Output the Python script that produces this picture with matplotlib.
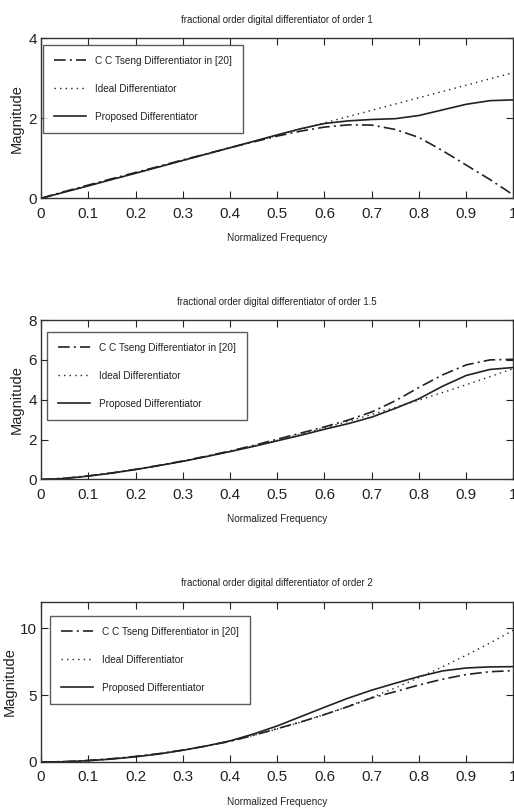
import matplotlib
matplotlib.use('Agg')
import matplotlib.pyplot as plt

plt.rcParams['font.family'] = ['Liberation Sans', 'DejaVu Sans']

freq = [0.0, 0.05, 0.1, 0.15, 0.2, 0.25, 0.3, 0.35, 0.4, 0.45, 0.5,
        0.55, 0.6, 0.65, 0.7, 0.75, 0.8, 0.85, 0.9, 0.95, 1.0]
xticks = [0, 0.1, 0.2, 0.3, 0.4, 0.5, 0.6, 0.7, 0.8, 0.9, 1]
xticklabels = ['0', '0.1', '0.2', '0.3', '0.4', '0.5', '0.6', '0.7', '0.8', '0.9', '1']

labels = ['C C Tseng Differentiator in [20]', 'Ideal Differentiator', 'Proposed Differentiator']
titles = ['fractional order digital differentiator of order 1',
          'fractional order digital differentiator of order 1.5',
          'fractional order digital differentiator of order 2']

# order 1
tseng1 = [0, 0.17, 0.33, 0.49, 0.645, 0.80, 0.96, 1.11, 1.265, 1.41, 1.555,
          1.68, 1.78, 1.835, 1.83, 1.72, 1.52, 1.19, 0.83, 0.47, 0.08]
ideal1 = [0, 0.157, 0.314, 0.471, 0.628, 0.785, 0.942, 1.100, 1.257, 1.414, 1.571,
          1.728, 1.885, 2.042, 2.199, 2.356, 2.513, 2.670, 2.827, 2.985, 3.14]
prop1 = [0, 0.155, 0.31, 0.47, 0.625, 0.785, 0.945, 1.105, 1.265, 1.425, 1.585,
         1.74, 1.87, 1.935, 1.97, 1.99, 2.07, 2.21, 2.35, 2.44, 2.46]

# order 1.5
tseng2 = [0, 0.06, 0.18, 0.33, 0.51, 0.71, 0.93, 1.17, 1.43, 1.71, 2.02,
          2.33, 2.64, 2.98, 3.39, 3.95, 4.62, 5.25, 5.75, 6.00, 6.03]
ideal2 = [0, 0.062, 0.176, 0.323, 0.498, 0.696, 0.915, 1.153, 1.409, 1.681, 1.969,
          2.271, 2.588, 2.918, 3.261, 3.617, 3.984, 4.363, 4.754, 5.156, 5.568]
prop2 = [0, 0.05, 0.17, 0.32, 0.50, 0.70, 0.91, 1.15, 1.40, 1.66, 1.94,
         2.22, 2.52, 2.80, 3.13, 3.57, 4.05, 4.68, 5.22, 5.52, 5.62]

# order 2
tseng3 = [0, 0.03, 0.12, 0.25, 0.42, 0.63, 0.89, 1.20, 1.54, 2.00, 2.50,
          3.00, 3.55, 4.15, 4.80, 5.27, 5.77, 6.20, 6.55, 6.76, 6.84]
ideal3 = [0, 0.025, 0.099, 0.222, 0.395, 0.617, 0.888, 1.209, 1.579, 1.999, 2.467,
          2.986, 3.553, 4.170, 4.836, 5.552, 6.317, 7.131, 7.994, 8.907, 9.870]
prop3 = [0, 0.02, 0.10, 0.22, 0.39, 0.60, 0.88, 1.20, 1.58, 2.10, 2.70,
         3.40, 4.10, 4.78, 5.38, 5.90, 6.40, 6.82, 7.04, 7.12, 7.14]

panels = [
    (tseng1, ideal1, prop1, 4, [0, 2, 4], (0.004, 0.958), -0.036),
    (tseng2, ideal2, prop2, 8, [0, 2, 4, 6, 8], (0.013, 0.925), -0.036),
    (tseng3, ideal3, prop3, 12, [0, 5, 10], (0.019, 0.911), -0.051),
]
boxes = [(0.7549, 0.9527), (0.4073, 0.6044), (0.0581, 0.2562)]

ink = '#222222'
fig = plt.figure(figsize=(5.14, 8.09), dpi=100)

for i, (ts, idl, pr, ymax, yticks, anchor, ylab_x) in enumerate(panels):
    bottom, top = boxes[i]
    ax = fig.add_axes([0.0798, bottom, 0.999 - 0.0798, top - bottom])

    ax.plot(freq, ts, color=ink, lw=1.2, linestyle=(0, (7, 2.5, 1.2, 2.5)), label=labels[0])
    ax.plot(freq, idl, color=ink, lw=1.0, linestyle=(0, (1, 3)), label=labels[1])
    ax.plot(freq, pr, color=ink, lw=1.2, linestyle='-', label=labels[2])

    ax.set_xlim(0, 1)
    ax.set_ylim(0, ymax)
    ax.set_xticks(xticks)
    ax.set_xticklabels(xticklabels)
    ax.set_yticks(yticks)
    ax.tick_params(direction='in', length=5, width=0.8, top=True, right=True,
                   labelsize=11, colors=ink)
    ax.tick_params(axis='x', pad=6)
    ax.tick_params(axis='y', pad=3)
    for sp in ax.spines.values():
        sp.set_color('#333333')
        sp.set_linewidth(1.0)

    ax.set_title(titles[i], fontsize=6.9, color=ink, pad=11)
    ax.set_xlabel('Normalized Frequency', fontsize=7.2, color=ink, labelpad=9)
    ax.set_ylabel('Magnitude', fontsize=10.5, color=ink)
    ax.yaxis.set_label_coords(ylab_x, 0.5)

    leg = ax.legend(loc='upper left', bbox_to_anchor=anchor, fontsize=7.2,
                    fancybox=False, frameon=True, borderpad=1.1, labelspacing=1.8,
                    handlelength=3.2, handletextpad=0.9, borderaxespad=0)
    leg.get_frame().set_edgecolor('#333333')
    leg.get_frame().set_linewidth(1.0)
    for t in leg.get_texts():
        t.set_color(ink)

fig.savefig('out.png', dpi=100)
